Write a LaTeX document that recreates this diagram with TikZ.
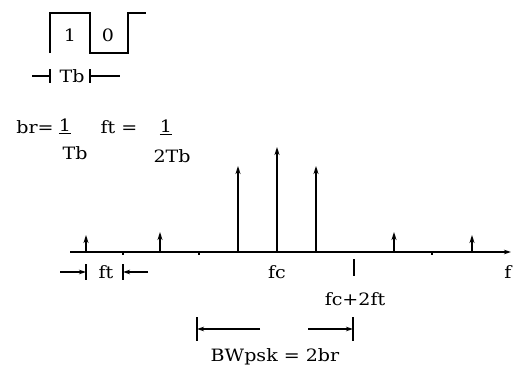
\documentclass[tikz,border=0pt]{standalone}
\usepackage{fontspec}
\setmainfont{DejaVu Serif}[FakeStretch=1.12]
\usetikzlibrary{arrows.meta}

\begin{document}
\begin{tikzpicture}[
  x=1pt,y=-1pt,
  font=\fontsize{17}{20}\selectfont,
  lbl/.style={inner sep=0pt},
  wave/.style={line width=1.3pt},
  line/.style={line width=1.2pt},
  flow/.style={-{Stealth[length=7pt,width=4.5pt]},line width=1.2pt},
  spike/.style={-{Stealth[length=8pt,width=5pt]},line width=1.5pt}
]
\useasboundingbox (0,0) rectangle (514,376);

% ---- bit pattern ----
\draw[wave] (50,53) -- (50,13) -- (90,13) -- (90,53) -- (128,53) -- (128,13) -- (146,13);
\node[lbl] (one) at (70,35) {1};
\node[lbl] (zero) at (108,35) {0};

% ---- bit period ----
\node[lbl] (tb) at (72,76) {Tb};
\coordinate (tbL) at (50,76);
\coordinate (tbR) at (90,76);
\draw[line] (32,76) -- (tbL);
\draw[line] (tbR) -- (120,76);
\draw[line] (50,69) -- (50,83);
\draw[line] (90,69) -- (90,83);

% ---- formulas ----
\node[lbl] (br) at (35,127) {br=};
\node[lbl] (brnum) at (65,126) {\underline{1}};
\node[lbl] (brden) at (75,153) {Tb};
\node[lbl] (ft) at (119,127) {ft =};
\node[lbl] (ftnum) at (166,127) {\underline{1}};
\node[lbl] (ftden) at (172,156) {2Tb};

% ---- spectrum axis ----
\coordinate (ax0) at (70,252);
\coordinate (ax1) at (511,252);
\draw[flow] (ax0) -- (ax1);
\node[lbl] (f) at (508,272) {f};

% ---- spectral lines ----
\coordinate (b1) at (86,252);  \coordinate (t1) at (86,235);
\coordinate (b2) at (160,252); \coordinate (t2) at (160,232);
\coordinate (b3) at (238,252); \coordinate (t3) at (238,166);
\coordinate (b4) at (277,252); \coordinate (t4) at (277,147);
\coordinate (b5) at (316,252); \coordinate (t5) at (316,166);
\coordinate (b6) at (394,252); \coordinate (t6) at (394,232);
\coordinate (b7) at (472,252); \coordinate (t7) at (472,235);
\draw[spike] (b1) -- (t1);
\draw[spike] (b2) -- (t2);
\draw[spike] (b3) -- (t3);
\draw[spike] (b4) -- (t4);
\draw[spike] (b5) -- (t5);
\draw[spike] (b6) -- (t6);
\draw[spike] (b7) -- (t7);

% small marks on the axis
\draw[line] (123,252) -- (123,255);
\draw[line] (199,252) -- (199,255);
\draw[line] (432,252) -- (432,255);
\draw[line] (354,259) -- (354,276);

\node[lbl] (fc) at (277,272) {fc};
\node[lbl] (fc2) at (355,299) {fc+2ft};

% ---- ft spacing ----
\coordinate (ftL) at (86,272);
\coordinate (ftR) at (123,272);
\draw[line] (86,264) -- (86,280);
\draw[line] (123,264) -- (123,280);
\node[lbl] (ftlab) at (106,272) {ft};
\draw[flow] (60,272) -- (ftL);
\draw[flow] (148,272) -- (ftR);

% ---- bandwidth ----
\coordinate (bwL) at (197,329);
\coordinate (bwR) at (353,329);
\coordinate (bwLs) at (260,329);
\coordinate (bwRs) at (308,329);
\draw[line] (197,317) -- (197,341);
\draw[line] (353,317) -- (353,341);
\draw[flow] (bwLs) -- (bwL);
\draw[flow] (bwRs) -- (bwR);
\node[lbl] (bw) at (275,357) {BWpsk = 2br};

\end{tikzpicture}
\end{document}
